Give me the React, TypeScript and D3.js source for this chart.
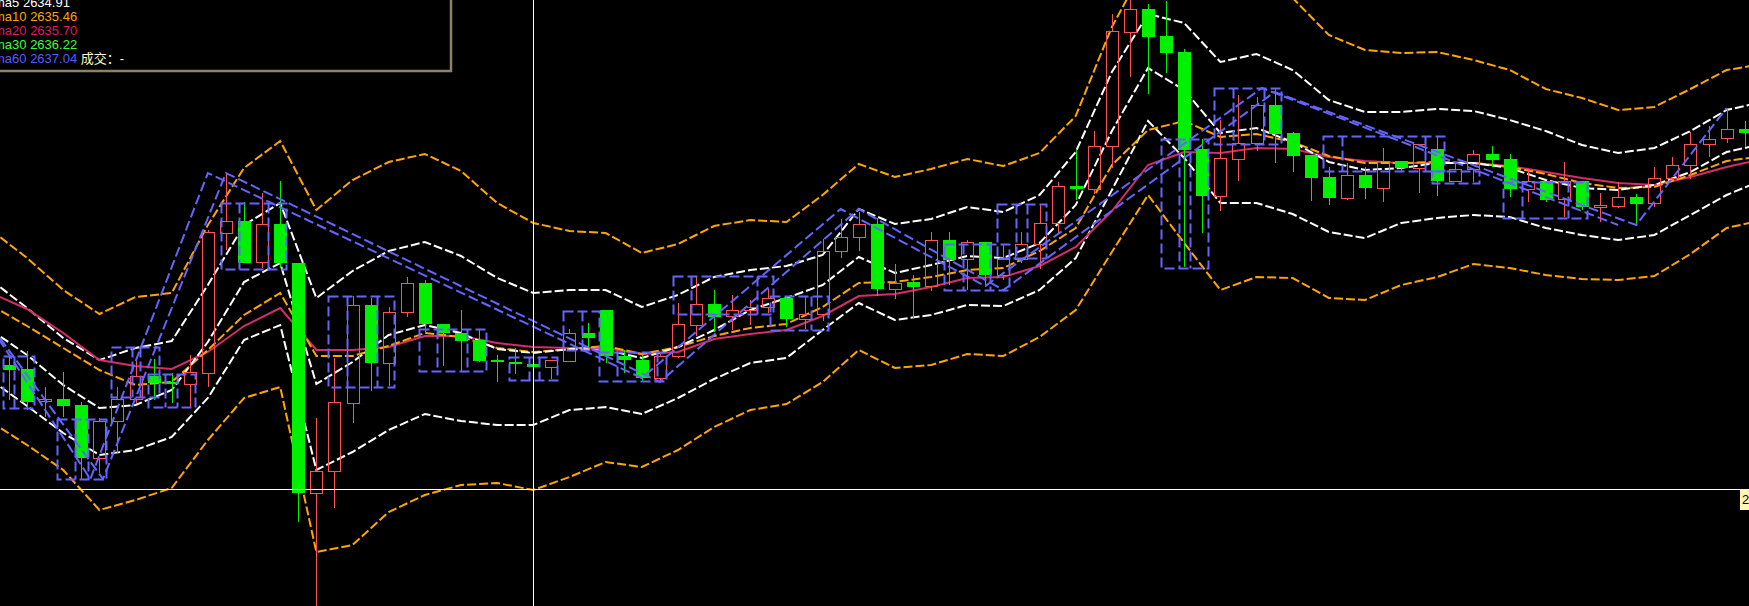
import React from 'react';
import * as d3 from 'd3';

const WIDTH = 1749;
const HEIGHT = 606;

// ---- candles (index 0..96) ----
const opens = [2633.5,2633.1,2629.9,2630.1,2629.5,2624.2,2627.9,2630.1,2632.4,2631.8,2631.6,2632.7,2646.7,2647.9,2643.8,2647.6,2643.7,2620.7,2622.9,2629.7,2639.5,2633.7,2638.8,2641.7,2637.6,2636.7,2636.0,2634.0,2633.8,2633.6,2633.3,2633.9,2636.7,2639.0,2634.4,2634.0,2632.2,2634.4,2637.5,2639.6,2638.4,2639.0,2639.3,2640.2,2638.1,2638.6,2644.9,2646.3,2647.6,2641.1,2641.8,2641.4,2646.0,2644.1,2645.8,2642.5,2644.1,2645.6,2647.7,2651.4,2651.1,2655.4,2666.8,2669.1,2666.4,2664.8,2655.1,2650.4,2654.1,2655.7,2659.5,2656.7,2654.5,2652.3,2650.2,2652.5,2651.2,2653.9,2653.2,2655.1,2651.9,2653.1,2654.6,2654.1,2651.1,2651.9,2650.1,2651.9,2649.3,2649.4,2650.3,2649.7,2652.2,2653.5,2655.6,2656.2,2657.1];
const closes = [2633.0,2629.8,2630.1,2629.4,2624.2,2627.9,2630.1,2632.4,2631.7,2631.6,2632.8,2646.8,2647.9,2643.7,2647.6,2643.7,2620.7,2622.9,2629.8,2639.5,2633.7,2638.8,2641.7,2637.6,2636.7,2635.9,2633.9,2633.8,2633.6,2633.3,2634.0,2636.7,2636.2,2634.4,2634.0,2632.2,2634.4,2637.6,2639.6,2638.3,2639.0,2639.3,2640.2,2638.1,2638.6,2644.9,2646.3,2647.6,2641.1,2641.7,2641.3,2646.0,2644.0,2645.8,2642.5,2644.1,2645.6,2647.7,2651.4,2651.1,2655.4,2666.9,2669.1,2666.3,2664.7,2655.0,2650.4,2654.2,2655.7,2659.5,2656.6,2654.4,2652.2,2650.2,2652.5,2651.2,2653.9,2653.2,2655.6,2651.9,2653.1,2654.6,2654.0,2651.1,2651.9,2650.0,2651.9,2649.3,2649.5,2650.3,2649.6,2652.2,2653.5,2655.6,2656.1,2657.1,2656.7];
const highs = [2634.5,2634.9,2631.3,2632.8,2629.8,2628.2,2631.3,2634.3,2634.1,2632.7,2634.5,2647.0,2652.7,2649.8,2650.7,2651.9,2643.7,2628.2,2634.2,2640.4,2640.2,2639.3,2642.3,2642.0,2637.6,2639.0,2637.0,2634.5,2635.2,2634.3,2634.0,2637.1,2637.7,2639.0,2635.0,2634.5,2634.6,2639.7,2642.4,2641.0,2640.5,2640.0,2641.1,2640.4,2640.3,2646.1,2648.1,2648.8,2648.2,2643.6,2642.5,2646.8,2646.8,2646.0,2645.8,2645.6,2646.8,2649.6,2651.8,2655.1,2656.9,2668.6,2670.2,2669.6,2669.9,2665.1,2656.1,2658.0,2660.5,2660.3,2661.2,2656.8,2654.5,2653.3,2653.7,2653.3,2655.2,2653.9,2655.6,2656.3,2653.7,2655.0,2655.4,2654.6,2653.0,2651.9,2653.8,2651.9,2650.7,2651.8,2650.6,2653.3,2654.3,2656.8,2657.4,2659.2,2657.9];
const lows = [2630.0,2629.0,2628.3,2628.3,2622.1,2622.7,2624.7,2629.7,2630.0,2629.7,2629.3,2631.3,2645.0,2643.7,2643.2,2643.2,2617.8,2608.8,2619.2,2627.7,2630.9,2631.4,2638.3,2636.8,2633.4,2632.9,2633.8,2631.8,2632.6,2632.8,2632.1,2633.9,2635.2,2633.7,2632.7,2631.9,2631.9,2634.2,2636.4,2636.8,2637.0,2637.5,2638.7,2637.3,2637.1,2637.9,2644.2,2644.9,2640.4,2640.1,2638.2,2640.9,2641.5,2641.0,2641.4,2642.0,2643.7,2643.1,2646.6,2650.0,2650.6,2653.2,2662.3,2660.6,2662.7,2643.3,2646.7,2648.9,2651.9,2654.9,2653.7,2652.8,2649.9,2649.5,2650.0,2650.1,2649.8,2652.9,2650.7,2650.4,2651.8,2651.8,2653.3,2650.3,2649.8,2649.8,2648.3,2649.0,2647.8,2649.2,2647.5,2649.3,2652.0,2652.1,2654.3,2655.7,2655.3];

// ---- indicator lines, sampled at these candle indices ----
const lineIdx = [-1,1,3,5,7,9,11,13,15,17,19,21,23,25,27,29,31,33,35,37,39,41,43,45,47,49,51,53,55,57,59,61,63,65,67,69,71,73,75,77,79,81,83,85,87,89,91,93,95,97];
const outerUpper = [2647.0,2644.2,2641.0,2638.6,2640.3,2640.7,2647.5,2653.2,2655.9,2649.0,2652.0,2653.8,2654.6,2652.9,2649.7,2647.7,2646.9,2646.7,2644.7,2645.6,2647.4,2648.0,2647.8,2650.5,2653.6,2652.3,2653.1,2654.1,2653.4,2654.7,2658.4,2667.3,2674.0,2674.5,2671.2,2672.2,2670.2,2666.5,2665.0,2664.7,2664.8,2664.0,2663.0,2661.1,2660.2,2659.0,2659.3,2661.1,2663.0,2663.6];
const innerUpper = [2642.0,2639.2,2636.2,2634.0,2635.2,2635.9,2641.5,2647.5,2649.7,2640.2,2642.9,2644.9,2645.8,2644.4,2642.2,2640.7,2641.0,2641.0,2639.3,2640.5,2642.3,2643.0,2643.4,2644.5,2649.1,2647.6,2648.1,2649.3,2648.8,2650.5,2654.8,2662.8,2668.6,2667.7,2663.8,2664.6,2663.0,2660.0,2658.8,2658.8,2659.1,2658.9,2658.0,2656.9,2655.5,2654.7,2655.2,2656.9,2659.0,2659.8];
const ma5Vals = [2637.0,2634.5,2631.5,2629.2,2629.5,2631.0,2635.8,2641.8,2643.7,2631.6,2633.8,2636.5,2637.5,2636.7,2635.1,2634.7,2635.1,2635.0,2634.2,2635.3,2637.0,2639.0,2640.2,2641.5,2644.3,2642.7,2643.5,2644.4,2644.2,2645.7,2649.5,2656.9,2663.2,2661.0,2656.7,2657.2,2655.8,2653.8,2653.0,2653.2,2653.7,2653.7,2653.2,2652.0,2651.2,2651.0,2651.5,2652.8,2654.8,2655.6];
const ma10Vals = [2639.5,2637.4,2635.2,2633.0,2631.5,2631.8,2635.0,2638.5,2640.7,2634.4,2634.4,2635.4,2636.7,2636.3,2635.2,2634.8,2635.1,2635.4,2634.6,2635.3,2636.4,2637.2,2637.6,2639.3,2641.7,2641.8,2642.3,2643.0,2643.2,2644.9,2647.2,2653.5,2657.0,2657.9,2656.3,2656.6,2655.8,2654.4,2653.7,2653.7,2653.8,2653.7,2653.3,2652.6,2651.7,2651.2,2651.3,2652.5,2653.9,2654.4];
const ma20Vals = [2640.7,2639.1,2636.7,2634.0,2633.4,2633.1,2634.8,2637.4,2639.2,2635.0,2635.0,2635.3,2636.4,2636.4,2635.7,2635.3,2635.2,2635.2,2634.6,2634.8,2636.1,2636.6,2637.0,2638.4,2640.4,2640.6,2641.3,2642.2,2642.3,2643.4,2645.3,2648.9,2653.5,2654.8,2654.7,2655.2,2655.1,2654.3,2653.9,2653.7,2653.7,2653.7,2653.4,2652.8,2652.2,2651.7,2651.5,2652.3,2653.3,2654.1];
const innerLower = [2632.0,2629.4,2626.7,2624.5,2625.0,2626.3,2630.2,2636.0,2637.5,2623.0,2624.8,2627.0,2628.6,2627.9,2627.5,2627.5,2629.0,2629.3,2628.6,2630.2,2632.1,2633.7,2634.2,2637.0,2639.7,2638.0,2638.5,2639.5,2639.4,2641.0,2644.2,2651.0,2657.9,2654.2,2649.7,2649.7,2648.6,2646.8,2646.2,2647.7,2648.2,2648.5,2648.3,2647.2,2646.5,2646.0,2646.5,2648.5,2650.5,2652.0];
const outerLower = [2627.8,2625.5,2623.0,2619.0,2620.0,2621.2,2626.0,2630.2,2631.3,2614.8,2615.5,2618.8,2620.5,2621.5,2621.7,2621.0,2622.3,2623.8,2623.3,2625.0,2627.3,2629.0,2629.6,2631.8,2635.0,2633.2,2633.5,2634.6,2634.4,2636.3,2639.0,2644.8,2650.5,2645.7,2641.0,2642.3,2642.2,2640.2,2640.0,2641.5,2642.3,2643.6,2643.2,2642.5,2642.1,2642.0,2642.4,2644.6,2647.2,2648.0];

// ---- stroke zigzags (pivot candle index, price) ----
const zigAIdx = [-1, 4.5, 11, 35, 46, 54, 69.3, 89];
const zigAPrice = [2637.3, 2622.1, 2652.7, 2632.2, 2649.1, 2641.4, 2661.2, 2647.5];
const zigBIdx = [-0.5, 5.2, 12, 36, 47, 55, 70, 90, 95];
const zigBPrice = [2636.2, 2622.1, 2652.7, 2631.8, 2649.1, 2641.0, 2660.8, 2647.5, 2659.2];

// ---- pivot boxes ----
const boxStart = [-0.33, 2.65, 5.64, 7.69, 11.73, 17.64, 22.68, 27.65, 30.64, 32.63, 36.73, 42.09, 51.71, 54.65, 63.72, 66.65, 72.68, 78.71, 82.63];
const boxEnd = [1.38, 5.37, 8.30, 10.29, 15.32, 21.29, 26.38, 30.31, 32.63, 36.34, 42.26, 45.30, 55.31, 57.36, 66.32, 70.35, 79.37, 81.31, 87.28];
const boxHigh = [2634.4, 2628.1, 2635.3, 2632.6, 2649.7, 2640.4, 2637.1, 2634.3, 2638.9, 2634.8, 2642.4, 2640.4, 2645.6, 2649.6, 2656.1, 2661.2, 2656.4, 2652.9, 2651.8];
const boxLow = [2629.2, 2622.1, 2630.3, 2629.3, 2643.1, 2631.3, 2632.9, 2632.0, 2635.0, 2631.9, 2638.6, 2637.0, 2641.0, 2644.2, 2643.2, 2655.6, 2652.9, 2651.7, 2648.2];
const boxInner = [[0.28], [3.65, 4.37], [6.80, 7.25], [8.63, 9.29], [12.72, 14.33], [18.69, 20.35], [23.67, 25.33], [28.76, 29.31], [31.69], [33.63, 35.84], [37.72, 41.37], [44.36], [52.77, 54.26], [55.70, 56.31], [64.71, 65.32], [67.70, 69.41], [73.73, 78.32], [], [83.68, 86.23]];

// ---- legend ----
const legendNames = ['ma5', 'ma10', 'ma20', 'ma30', 'ma60'];
const legendValues = ['2634.91', '2635.46', '2635.70', '2636.22', '2637.04'];
const legendColors = ['#ffffff', '#ffa500', '#dc1e5f', '#3cff3c', '#5a5aff'];
const volumeLabel = '成交：-';

// ---- crosshair ----
const crossIdx = 29;
const crossPrice = 2621.1;
const crossLabel = '2621.10';

const RED = '#ff5252';
const GREEN = '#00f000';
const BLUE = '#6464ff';
const ORANGE = '#ffa500';
const PINK = '#d42c6c';
const FONT = "Arial, 'Liberation Sans', 'Noto Sans CJK SC', sans-serif";

export default function App() {
  const x = d3.scaleLinear().domain([0, 96]).range([9, 9 + 18.08 * 96]);
  const y = d3.scaleLinear().domain([2670, 2609.4]).range([0, HEIGHT]);

  const mkLine = (vals: number[]) =>
    d3.line<number>()
      .x((_, k) => x(lineIdx[k]))
      .y((v) => y(v))(vals) || '';

  const zigPath = (idx: number[], pr: number[]) =>
    d3.line<number>()
      .x((i) => x(i))
      .y((_, k) => y(pr[k]))(idx) || '';

  const crisp = (v: number) => Math.round(v) + 0.5;

  const candles = opens.map((o, i) => {
    const c = closes[i];
    const up = c >= o;
    const cx = crisp(x(i));
    const top = y(Math.max(o, c));
    const bot = y(Math.min(o, c));
    const hy = y(highs[i]);
    const ly = y(lows[i]);
    if (up) {
      const t = Math.round(top) + 0.5;
      const b = Math.max(Math.round(bot) + 0.5, t + 1);
      return (
        <g key={i}>
          <line x1={cx} x2={cx} y1={hy} y2={t} stroke={RED} strokeWidth={1} />
          <line x1={cx} x2={cx} y1={b} y2={ly} stroke={RED} strokeWidth={1} />
          <rect x={cx - 6} y={t} width={12} height={b - t} fill="none" stroke={RED} strokeWidth={1} />
        </g>
      );
    }
    const t = Math.round(top);
    const b = Math.max(Math.round(bot), t + 2);
    return (
      <g key={i}>
        <line x1={cx} x2={cx} y1={hy} y2={ly} stroke={GREEN} strokeWidth={1} />
        <rect x={cx - 6.5} y={t} width={13} height={b - t} fill={GREEN} />
      </g>
    );
  });

  const bandDash = '9 3';

  return (
    <div style={{ position: 'fixed', left: 0, top: 0, width: WIDTH, height: HEIGHT, background: '#000' }}>
      <svg width={WIDTH} height={HEIGHT} style={{ display: 'block', background: '#000' }}>
        <defs>
          <clipPath id="plot">
            <rect x={0} y={0} width={WIDTH} height={HEIGHT} />
          </clipPath>
        </defs>
        <g clipPath="url(#plot)">
          {/* bands */}
          <path d={mkLine(outerUpper)} fill="none" stroke={ORANGE} strokeWidth={2} strokeDasharray={bandDash} />
          <path d={mkLine(outerLower)} fill="none" stroke={ORANGE} strokeWidth={2} strokeDasharray={bandDash} />
          <path d={mkLine(innerUpper)} fill="none" stroke="#ffffff" strokeWidth={2} strokeDasharray={bandDash} />
          <path d={mkLine(innerLower)} fill="none" stroke="#ffffff" strokeWidth={2} strokeDasharray={bandDash} />
          {/* moving averages */}
          <path d={mkLine(ma20Vals)} fill="none" stroke={PINK} strokeWidth={2} />
          <path d={mkLine(ma10Vals)} fill="none" stroke={ORANGE} strokeWidth={2} strokeDasharray={bandDash} />
          <path d={mkLine(ma5Vals)} fill="none" stroke="#ffffff" strokeWidth={2} strokeDasharray={bandDash} />

          {/* candles */}
          {candles}

          {/* pivot boxes */}
          {boxStart.map((s, k) => {
            const x0 = Math.round(x(s)) + 0.5;
            const x1 = Math.round(x(boxEnd[k])) + 0.5;
            const y0 = Math.round(y(boxHigh[k])) + 0.5;
            const y1 = Math.round(y(boxLow[k])) + 0.5;
            return (
              <g key={'b' + k} stroke={BLUE} strokeWidth={2} strokeDasharray="10 4" fill="none">
                <rect x={x0} y={y0} width={x1 - x0} height={y1 - y0} />
                {boxInner[k].map((v, j) => (
                  <line key={j} x1={Math.round(x(v)) + 0.5} x2={Math.round(x(v)) + 0.5} y1={y0} y2={y1} />
                ))}
              </g>
            );
          })}

          {/* strokes */}
          <path d={zigPath(zigAIdx, zigAPrice)} fill="none" stroke={BLUE} strokeWidth={2} strokeDasharray="10 4" />
          <path d={zigPath(zigBIdx, zigBPrice)} fill="none" stroke={BLUE} strokeWidth={2} strokeDasharray="10 4" />

          {/* crosshair */}
          <line x1={crisp(x(crossIdx))} x2={crisp(x(crossIdx))} y1={0} y2={HEIGHT} stroke="#ffffff" strokeWidth={1} />
          <line x1={0} x2={1740} y1={crisp(y(crossPrice))} y2={crisp(y(crossPrice))} stroke="#ffffff" strokeWidth={1} />
          <rect x={1740} y={Math.round(y(crossPrice))} width={30} height={21} fill="#fff5b4" />
          <text x={1742} y={Math.round(y(crossPrice)) + 15} fontFamily={FONT} fontSize={13} fill="#000">{crossLabel}</text>

          {/* legend */}
          <rect x={-10} y={-10} width={461} height={81} fill="#000" stroke="#8c8264" strokeWidth={2.5} />
          {legendNames.map((n, k) => (
            <text key={n} x={-6} y={7 + k * 14} fontFamily={FONT} fontSize={13} fill={legendColors[k]}>
              {n + ' ' + legendValues[k]}
              {k === legendNames.length - 1 ? (
                <tspan fill="#ffffc8">{' ' + volumeLabel}</tspan>
              ) : null}
            </text>
          ))}
        </g>
      </svg>
    </div>
  );
}
